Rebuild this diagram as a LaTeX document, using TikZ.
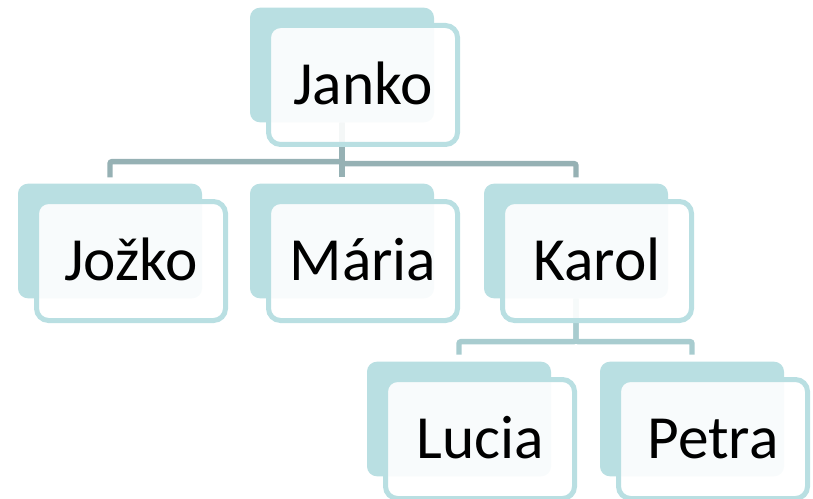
\documentclass[tikz,border=0pt]{standalone}
\usepackage{fontspec}
\setmainfont{Carlito}
\definecolor{boxteal}{RGB}{185,223,226}
\definecolor{linkdark}{RGB}{150,177,180}
\definecolor{linklight}{RGB}{168,204,207}

\begin{document}
\begin{tikzpicture}[x=0.75pt,y=-0.75pt,
  backbox/.style={fill=boxteal, rounded corners=7.5pt, inner sep=0pt,
                  minimum width=138pt, minimum height=86pt},
  frontbox/.style={draw=boxteal, line width=3.75pt, fill=white, fill opacity=0.9,
                   text opacity=1, rounded corners=9pt, inner sep=0pt,
                   minimum width=141.75pt, minimum height=89.25pt,
                   text height=29.6pt, text depth=0pt,
                   font=\fontsize{46}{50}\selectfont},
  toplink/.style={draw=linkdark, line width=4pt, rounded corners=1.5pt, shorten >=4.5pt},
  lowlink/.style={draw=linklight, line width=4pt, rounded corners=1.5pt, shorten >=5pt}]
  \useasboundingbox (0,0) rectangle (813,499);

  \node[backbox] (jankoB) at (342,65) {};
  \node[backbox] (jozkoB) at (110,241) {};
  \node[backbox] (mariaB) at (342,241) {};
  \node[backbox] (karolB) at (576,241) {};
  \node[backbox] (luciaB) at (459,419) {};
  \node[backbox] (petraB) at (692,419) {};

  \draw[toplink] (jankoB.south) -- ++(0,39) -| (jozkoB.north);
  \draw[toplink] (jankoB.south) -- ++(0,39) -| (mariaB.north);
  \draw[toplink] (jankoB.south) -- ++(0,41) -| (karolB.north);
  \draw[lowlink] (karolB.south) -- ++(0,43) -| (luciaB.north);
  \draw[lowlink] (karolB.south) -- ++(0,43) -| (petraB.north);

  \node[frontbox] (janko) at ([shift={(21,20)}]jankoB) {Janko};
  \node[frontbox] (jozko) at ([shift={(21,20)}]jozkoB) {Jožko};
  \node[frontbox] (maria) at ([shift={(21,20)}]mariaB) {Mária};
  \node[frontbox] (karol) at ([shift={(21,20)}]karolB) {Karol};
  \node[frontbox] (lucia) at ([shift={(21,20)}]luciaB) {Lucia};
  \node[frontbox] (petra) at ([shift={(21,20)}]petraB) {Petra};
\end{tikzpicture}
\end{document}
